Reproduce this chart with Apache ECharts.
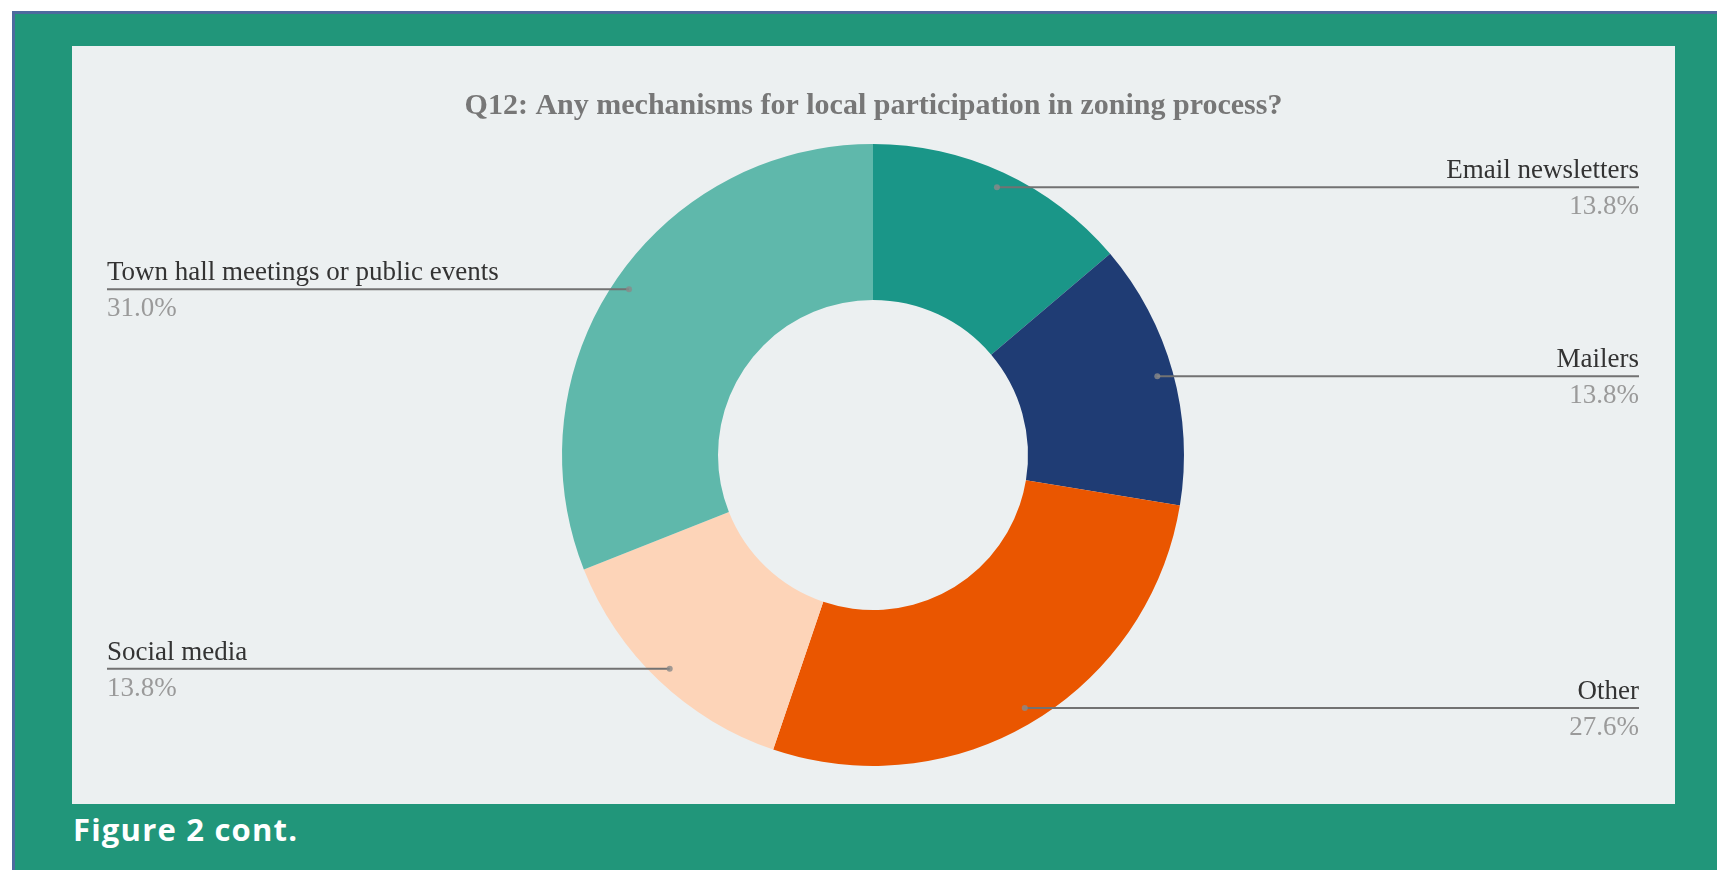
<!DOCTYPE html>
<html>
<head>
<meta charset="utf-8">
<script src="https://cdn.jsdelivr.net/npm/echarts@6/dist/echarts.min.js"></script>
<style>
  html, body { margin: 0; padding: 0; background: #ffffff; width: 1717px; height: 870px; overflow: hidden; }
  #frame { position: absolute; left: 12px; top: 11px; right: 0; bottom: 0; background: #21967a;
           border-left: 3px solid #4d6a9e; border-top: 3px solid #4d6a9e; }
  #panel { position: absolute; left: 72px; top: 46px; width: 1603px; height: 758px; background: #ecf0f1; }
  #chart { position: absolute; left: 72px; top: 46px; width: 1603px; height: 758px; }
  #caption { position: absolute; left: 73px; top: 814px; font-family: "Open Sans", Lato, sans-serif;
             font-weight: bold; font-size: 31px; line-height: 31px; letter-spacing: 1.2px; color: #ffffff; white-space: nowrap; }
</style>
</head>
<body>
<div id="frame"></div>
<div id="panel"></div>
<div id="chart"></div>
<div id="caption">Figure 2 cont.</div>
<script>
const titleText = 'Q12: Any mechanisms for local participation in zoning process?';
const categories = ['Email newsletters', 'Mailers', 'Other', 'Social media', 'Town hall meetings or public events'];
const values = [13.8, 13.8, 27.6, 13.8, 31.0];
const colors = ['#1a9688', '#1f3c74', '#ea5600', '#fdd4b8', '#5fb8ab'];

const W = 1603, H = 758;
const CX = 801, CY = 409;
const R_OUT = 311, R_IN = 155, R_DOT = 295;

const pieData = categories.map((c, i) => ({ name: c, value: values[i], itemStyle: { color: colors[i] } }));
const labelData = categories.map((c, i) => ({ name: c, value: values[i] }));

// mid-angle positions (in the same 0..100 percent scale) for the small guide dots
const total = values.reduce((a, b) => a + b, 0);
let acc = 0;
const dotData = values.map(v => { const mid = (acc + v / 2) / total * 100; acc += v; return [R_DOT, mid]; });

const chart = echarts.init(document.getElementById('chart'), null, { renderer: 'canvas' });
chart.setOption({
  backgroundColor: 'transparent',
  animation: false,
  title: {
    text: titleText,
    left: 'center',
    top: 45,
    padding: 0,
    textStyle: { fontFamily: '"Liberation Serif", "DejaVu Serif", serif', fontWeight: 'bold', fontSize: 30, color: '#777777' }
  },
  polar: { center: [CX, CY], radius: R_OUT },
  angleAxis: { type: 'value', min: 0, max: 100, startAngle: 90, clockwise: true, show: false },
  radiusAxis: { type: 'value', min: 0, max: R_OUT, show: false },
  series: [
    {
      type: 'pie',
      center: [CX, CY],
      radius: [R_IN, R_OUT],
      startAngle: 90,
      silent: true,
      label: { show: false },
      labelLine: { show: false },
      itemStyle: { borderWidth: 0 },
      data: pieData
    },
    {
      type: 'pie',
      left: 35, right: 36, top: 0, bottom: 0,
      center: ['50%', CY],
      radius: [0, R_DOT],
      startAngle: 90,
      silent: true,
      z: 3,
      itemStyle: { color: 'rgba(0,0,0,0)', borderWidth: 0 },
      label: {
        show: true,
        position: 'outside',
        alignTo: 'edge',
        edgeDistance: 0,
        formatter: p => '{n|' + p.name + '}\n{p|' + p.percent.toFixed(1) + '%}',
        rich: {
          n: { fontFamily: '"Liberation Serif", serif', fontSize: 27, color: '#333333', lineHeight: 40 },
          p: { fontFamily: '"Liberation Serif", serif', fontSize: 27, color: '#9a9a9a', lineHeight: 32 }
        }
      },
      labelLine: { show: true, length: 0, length2: 10, smooth: false, lineStyle: { color: '#727272', width: 2 } },
      labelLayout: function (params) {
        const isLeft = params.labelRect.x < W / 2;
        const pts = params.labelLinePoints;
        const y = pts[0][1];
        return {
          labelLinePoints: [
            [pts[0][0], y],
            [pts[0][0], y],
            [isLeft ? params.labelRect.x : params.labelRect.x + params.labelRect.width, y]
          ]
        };
      },
      data: labelData
    },
    {
      type: 'scatter',
      coordinateSystem: 'polar',
      symbol: 'circle',
      symbolSize: 6,
      silent: true,
      z: 4,
      itemStyle: { color: '#8a8a8a' },
      data: dotData
    }
  ]
});
</script>
</body>
</html>
